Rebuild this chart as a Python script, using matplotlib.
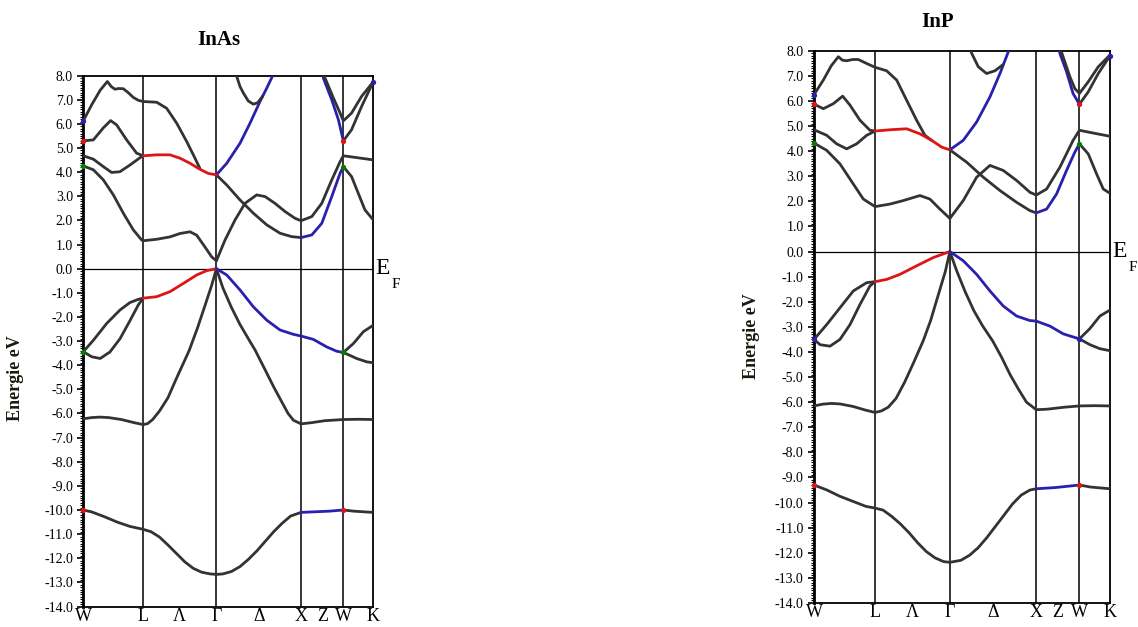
import matplotlib
matplotlib.use('Agg')
import matplotlib.pyplot as plt
from matplotlib.ticker import MultipleLocator, FixedLocator
import matplotlib.transforms as mtransforms

plt.rcParams['font.family'] = ['Liberation Serif', 'DejaVu Serif']
plt.rcParams['axes.unicode_minus'] = False

# high symmetry path W-L-G-X-W-K (units of 2pi/a)
sym_k = [0.0, 0.707, 1.573, 2.573, 3.073, 3.427]
tick_k = [0.0, 0.707, 1.140, 1.573, 2.073, 2.573, 2.823, 3.073, 3.427]
tick_lab = ['W', 'L', 'Λ', 'Γ', 'Δ', 'X', 'Z', 'W', 'K']

DARK = '#333333'
RED = '#dd1515'
BLUE = '#2a20b0'

# ---------------- InAs ----------------
inas_s_wx = [(0, -10.0), (0.1, -10.08), (0.25, -10.28), (0.4, -10.5), (0.55, -10.68), (0.707, -10.8),
             (0.8, -10.9), (0.9, -11.12), (1.0, -11.45), (1.1, -11.8), (1.2, -12.15), (1.3, -12.42),
             (1.4, -12.58), (1.5, -12.65), (1.573, -12.67), (1.65, -12.65), (1.75, -12.55), (1.85, -12.35),
             (1.95, -12.05), (2.05, -11.7), (2.15, -11.3), (2.25, -10.9), (2.35, -10.55), (2.45, -10.25),
             (2.573, -10.1)]
inas_s_xw = [(2.573, -10.1), (2.7, -10.08), (2.9, -10.05), (3.073, -10.0)]
inas_s_wk = [(3.073, -10.0), (3.2, -10.05), (3.427, -10.1)]

inas_p_wl = [(0, -6.22), (0.1, -6.17), (0.2, -6.15), (0.3, -6.17), (0.45, -6.25), (0.6, -6.38), (0.707, -6.46)]
inas_p_lg = [(0.707, -6.46), (0.76, -6.42), (0.82, -6.25), (0.9, -5.9), (1.0, -5.35), (1.1, -4.55),
             (1.25, -3.4), (1.35, -2.45), (1.45, -1.4), (1.52, -0.65), (1.573, 0.0)]
inas_p_gx = [(1.573, 0.0), (1.65, -0.8), (1.75, -1.6), (1.85, -2.3), (1.95, -2.9), (2.03, -3.37),
             (2.15, -4.2), (2.25, -4.9), (2.35, -5.55), (2.42, -6.0), (2.483, -6.28), (2.573, -6.43)]
inas_p_xk = [(2.573, -6.43), (2.7, -6.38), (2.85, -6.3), (3.073, -6.25), (3.25, -6.24), (3.427, -6.25)]

inas_v_wl1 = [(0, -3.44), (0.12, -2.96), (0.276, -2.27), (0.434, -1.71), (0.552, -1.4), (0.65, -1.27), (0.707, -1.22)]
inas_v_wl2 = [(0, -3.44), (0.1, -3.65), (0.2, -3.72), (0.315, -3.45), (0.434, -2.9), (0.552, -2.15),
              (0.65, -1.5), (0.707, -1.22)]
inas_v_lg = [(0.707, -1.22), (0.867, -1.16), (1.025, -0.95), (1.182, -0.61), (1.34, -0.26), (1.458, -0.08), (1.573, 0.0)]
inas_v_gw = [(1.573, 0.0), (1.695, -0.26), (1.852, -0.88), (2.01, -1.58), (2.167, -2.13), (2.325, -2.54),
             (2.483, -2.72), (2.573, -2.79), (2.719, -2.93), (2.876, -3.24), (2.994, -3.42), (3.073, -3.47)]
inas_v_wk1 = [(3.073, -3.47), (3.192, -3.1), (3.31, -2.61), (3.427, -2.34)]
inas_v_wk2 = [(3.073, -3.47), (3.23, -3.72), (3.35, -3.86), (3.427, -3.9)]

inas_c_wg = [(0, 4.26), (0.119, 4.1), (0.237, 3.68), (0.355, 3.06), (0.473, 2.3), (0.591, 1.61), (0.69, 1.19),
             (0.707, 1.16), (0.867, 1.22), (1.025, 1.32), (1.143, 1.46), (1.261, 1.53), (1.34, 1.39),
             (1.438, 0.9), (1.517, 0.49), (1.573, 0.33)]
inas_c_gk = [(1.573, 0.33), (1.675, 1.19), (1.793, 2.02), (1.911, 2.71), (2.049, 3.06), (2.148, 2.99),
             (2.265, 2.71), (2.384, 2.37), (2.502, 2.09), (2.573, 1.99), (2.7, 2.16), (2.818, 2.71),
             (2.936, 3.68), (3.035, 4.44), (3.073, 4.68), (3.2, 4.62), (3.427, 4.51)]
inas_c2_gx = [(1.573, 3.89), (1.695, 3.47), (1.852, 2.85), (2.01, 2.3), (2.167, 1.82), (2.325, 1.47),
              (2.462, 1.33), (2.573, 1.29)]
inas_c2_xw = [(2.573, 1.29), (2.7, 1.4), (2.818, 1.88), (2.936, 2.99), (3.035, 3.96), (3.073, 4.23)]
inas_c2_wk = [(3.073, 4.23), (3.17, 3.82), (3.249, 3.13), (3.328, 2.44), (3.427, 2.02)]
inas_c3_g = [(1.573, 3.89), (1.695, 4.37), (1.852, 5.2), (1.97, 6.03), (2.088, 6.93), (2.167, 7.48),
             (2.234, 7.97), (2.25, 8.2)]
inas_c4_gx = [(1.80, 8.2), (1.813, 7.97), (1.852, 7.55), (1.892, 7.28), (1.95, 6.95), (2.01, 6.82),
              (2.06, 6.88), (2.12, 7.15)]
inas_u1 = [(0, 6.13), (0.1, 6.8), (0.2, 7.4), (0.284, 7.76), (0.33, 7.55), (0.374, 7.44), (0.42, 7.47),
           (0.473, 7.46), (0.53, 7.3), (0.591, 7.1), (0.65, 6.98), (0.707, 6.93), (0.867, 6.9),
           (0.985, 6.65), (1.104, 6.03), (1.222, 5.27), (1.32, 4.58), (1.379, 4.15)]
inas_u2 = [(0, 5.3), (0.119, 5.34), (0.237, 5.84), (0.323, 6.14), (0.394, 5.96), (0.512, 5.34),
           (0.63, 4.79), (0.707, 4.68)]
inas_u3 = [(0, 4.68), (0.119, 4.54), (0.237, 4.23), (0.335, 3.99), (0.433, 4.02), (0.552, 4.3),
           (0.67, 4.6), (0.707, 4.68)]
inas_u_lg = [(0.707, 4.68), (0.867, 4.72), (1.025, 4.72), (1.143, 4.58), (1.261, 4.37), (1.379, 4.12),
             (1.477, 3.95), (1.573, 3.89)]
inas_t_b = [(2.82, 8.2), (2.837, 7.9), (2.936, 7.0), (3.015, 6.17), (3.073, 5.3)]
inas_t_k1 = [(2.84, 8.2), (2.857, 7.9), (2.956, 7.07), (3.035, 6.45), (3.073, 6.13), (3.17, 6.45),
             (3.288, 7.14), (3.427, 7.75)]
inas_t_k2 = [(3.073, 5.3), (3.17, 5.76), (3.288, 6.72), (3.427, 7.75)]

# ---------------- InP ----------------
inp_s_wx = [(0, -9.3), (0.15, -9.5), (0.3, -9.75), (0.45, -9.95), (0.6, -10.15), (0.707, -10.22),
            (0.8, -10.3), (0.9, -10.55), (1.0, -10.85), (1.1, -11.2), (1.2, -11.6), (1.3, -11.95),
            (1.4, -12.2), (1.5, -12.35), (1.573, -12.38), (1.7, -12.3), (1.8, -12.1), (1.9, -11.8),
            (2.0, -11.4), (2.1, -10.95), (2.2, -10.5), (2.3, -10.05), (2.4, -9.7), (2.5, -9.5), (2.573, -9.45)]
inp_s_xw = [(2.573, -9.45), (2.8, -9.4), (3.073, -9.3)]
inp_s_wk = [(3.073, -9.3), (3.2, -9.38), (3.427, -9.45)]

inp_p_wl = [(0, -6.15), (0.1, -6.08), (0.2, -6.05), (0.3, -6.07), (0.45, -6.17), (0.6, -6.32), (0.707, -6.41)]
inp_p_lg = [(0.707, -6.41), (0.78, -6.35), (0.86, -6.2), (0.95, -5.85), (1.05, -5.2), (1.15, -4.45),
            (1.265, -3.55), (1.35, -2.75), (1.45, -1.6), (1.52, -0.8), (1.573, 0.0)]
inp_p_gx = [(1.573, 0.0), (1.65, -0.75), (1.75, -1.6), (1.85, -2.35), (1.95, -2.95), (2.07, -3.57),
            (2.17, -4.2), (2.27, -4.9), (2.37, -5.5), (2.46, -6.0), (2.573, -6.3)]
inp_p_xk = [(2.573, -6.3), (2.7, -6.28), (2.9, -6.2), (3.073, -6.15), (3.25, -6.14), (3.427, -6.15)]

inp_v_wl1 = [(0, -3.5), (0.147, -2.91), (0.301, -2.24), (0.455, -1.57), (0.61, -1.24), (0.707, -1.2)]
inp_v_wl2 = [(0, -3.5), (0.07, -3.71), (0.185, -3.77), (0.301, -3.5), (0.417, -2.91), (0.532, -2.11),
             (0.648, -1.37), (0.707, -1.2)]
inp_v_lg = [(0.707, -1.2), (0.841, -1.11), (0.995, -0.91), (1.188, -0.57), (1.381, -0.24), (1.573, 0.0)]
inp_v_gw = [(1.573, 0.0), (1.729, -0.37), (1.883, -0.91), (2.037, -1.57), (2.191, -2.17), (2.346, -2.57),
            (2.5, -2.75), (2.573, -2.77), (2.731, -2.97), (2.886, -3.28), (3.073, -3.48)]
inp_v_wk1 = [(3.073, -3.48), (3.194, -3.07), (3.31, -2.57), (3.427, -2.33)]
inp_v_wk2 = [(3.073, -3.48), (3.194, -3.71), (3.31, -3.87), (3.427, -3.95)]

inp_c_wg = [(0, 4.32), (0.147, 4.03), (0.301, 3.49), (0.455, 2.69), (0.571, 2.09), (0.707, 1.79),
            (0.879, 1.89), (1.034, 2.03), (1.226, 2.23), (1.342, 2.09), (1.458, 1.69), (1.573, 1.32)]
inp_c_gk = [(1.573, 1.32), (1.728, 2.03), (1.883, 2.96), (2.037, 3.43), (2.191, 3.23), (2.346, 2.83),
            (2.5, 2.36), (2.573, 2.25), (2.693, 2.49), (2.847, 3.36), (3.0, 4.43), (3.073, 4.83),
            (3.233, 4.72), (3.427, 4.59)]
inp_c2_gx = [(1.573, 4.05), (1.767, 3.56), (1.96, 2.96), (2.153, 2.43), (2.346, 1.96), (2.5, 1.63), (2.573, 1.54)]
inp_c2_xw = [(2.573, 1.54), (2.693, 1.69), (2.808, 2.29), (2.924, 3.23), (3.02, 3.96), (3.073, 4.29)]
inp_c2_wk = [(3.073, 4.29), (3.175, 3.89), (3.272, 3.09), (3.349, 2.49), (3.427, 2.32)]
inp_c3_g = [(1.573, 4.05), (1.728, 4.43), (1.883, 5.16), (2.037, 6.16), (2.153, 7.09), (2.25, 7.96), (2.27, 8.2)]
inp_c4_gx = [(1.8, 8.2), (1.825, 7.9), (1.902, 7.36), (1.998, 7.09), (2.095, 7.2), (2.19, 7.45)]
inp_u1 = [(0, 6.25), (0.108, 6.83), (0.2, 7.4), (0.282, 7.76), (0.33, 7.62), (0.378, 7.6), (0.45, 7.65),
          (0.513, 7.65), (0.61, 7.49), (0.707, 7.34), (0.841, 7.2), (0.957, 6.83), (1.072, 6.03),
          (1.188, 5.23), (1.284, 4.63), (1.362, 4.43)]
inp_u2 = [(0, 5.87), (0.108, 5.69), (0.224, 5.89), (0.332, 6.19), (0.417, 5.83), (0.532, 5.23),
          (0.648, 4.83), (0.707, 4.8)]
inp_u3 = [(0, 4.85), (0.147, 4.63), (0.262, 4.29), (0.378, 4.09), (0.494, 4.29), (0.61, 4.63), (0.707, 4.8)]
inp_u_lg = [(0.707, 4.8), (0.879, 4.85), (1.072, 4.89), (1.226, 4.69), (1.362, 4.43), (1.478, 4.16), (1.573, 4.05)]
inp_t_b = [(2.83, 8.2), (2.847, 7.89), (2.924, 7.16), (3.0, 6.29), (3.073, 5.87)]
inp_t_k1 = [(2.85, 8.2), (2.87, 7.9), (2.963, 6.96), (3.02, 6.49), (3.073, 6.3), (3.175, 6.76),
            (3.291, 7.36), (3.427, 7.83)]
inp_t_k2 = [(3.073, 5.87), (3.175, 6.36), (3.291, 7.09), (3.427, 7.8)]

inas_bands = [
    (inas_s_wx, DARK), (inas_s_xw, BLUE), (inas_s_wk, DARK),
    (inas_p_wl, DARK), (inas_p_lg, DARK), (inas_p_gx, DARK), (inas_p_xk, DARK),
    (inas_v_wl1, DARK), (inas_v_wl2, DARK), (inas_v_lg, RED), (inas_v_gw, BLUE),
    (inas_v_wk1, DARK), (inas_v_wk2, DARK),
    (inas_c_wg, DARK), (inas_c_gk, DARK), (inas_c2_gx, DARK), (inas_c2_xw, BLUE), (inas_c2_wk, DARK),
    (inas_c3_g, BLUE), (inas_c4_gx, DARK),
    (inas_u1, DARK), (inas_u2, DARK), (inas_u3, DARK), (inas_u_lg, RED),
    (inas_t_b, BLUE), (inas_t_k1, DARK), (inas_t_k2, DARK),
]
inp_bands = [
    (inp_s_wx, DARK), (inp_s_xw, BLUE), (inp_s_wk, DARK),
    (inp_p_wl, DARK), (inp_p_lg, DARK), (inp_p_gx, DARK), (inp_p_xk, DARK),
    (inp_v_wl1, DARK), (inp_v_wl2, DARK), (inp_v_lg, RED), (inp_v_gw, BLUE),
    (inp_v_wk1, DARK), (inp_v_wk2, DARK),
    (inp_c_wg, DARK), (inp_c_gk, DARK), (inp_c2_gx, DARK), (inp_c2_xw, BLUE), (inp_c2_wk, DARK),
    (inp_c3_g, BLUE), (inp_c4_gx, DARK),
    (inp_u1, DARK), (inp_u2, DARK), (inp_u3, DARK), (inp_u_lg, RED),
    (inp_t_b, BLUE), (inp_t_k1, DARK), (inp_t_k2, DARK),
]

# small coloured dots at W / K points
inas_dots = [(0, 6.13, BLUE), (0, 5.3, RED), (0, 4.26, 'g'), (0, -3.44, 'g'), (0, -10.0, RED),
             (3.073, 5.3, RED), (3.073, 4.23, 'g'), (3.073, -3.47, 'g'), (3.073, -10.0, RED), (3.427, 7.75, BLUE)]
inp_dots = [(0, 6.25, BLUE), (0, 5.87, RED), (0, 4.32, 'g'), (0, -3.5, BLUE), (0, -9.3, RED),
            (3.073, 5.87, RED), (3.073, 4.29, 'g'), (3.073, -3.48, BLUE), (3.073, -9.3, RED), (3.427, 7.8, BLUE)]


def draw_panel(ax, bands, dots):
    for pts, col in bands:
        ks = [p[0] for p in pts]
        es = [p[1] for p in pts]
        ax.plot(ks, es, color=col, lw=2.0, solid_capstyle='round', solid_joinstyle='round', zorder=3)
    for k, e, col in dots:
        ax.plot(k, e, 'o', ms=2.8, color=col, zorder=4, clip_on=False)
    for k in sym_k[1:-1]:
        ax.axvline(k, color='black', lw=1.1, zorder=2)
    ax.axhline(0.0, color='black', lw=0.9, zorder=2)
    ax.set_xlim(sym_k[0], sym_k[-1])
    ax.set_ylim(-14, 8)
    ax.xaxis.set_major_locator(FixedLocator(tick_k))
    ax.set_xticklabels(tick_lab)
    ax.tick_params(axis='x', length=0, pad=1, labelsize=13)
    ax.yaxis.set_minor_locator(MultipleLocator(0.1))
    ax.set_yticks([float(v) for v in range(-14, 9)])
    ax.set_yticklabels(['%.1f' % v for v in range(-14, 9)])
    ax.tick_params(axis='y', which='major', direction='out', length=4.5, width=1.2, pad=3, labelsize=10)
    ax.tick_params(axis='y', which='minor', direction='out', length=2.5, width=0.8)
    for s in ax.spines.values():
        s.set_linewidth(1.3)
    ax.spines['left'].set_linewidth(2.0)
    trans = mtransforms.blended_transform_factory(ax.transAxes, ax.transData)
    ax.text(1.008, 0.0, 'E', transform=trans, fontsize=17, va='center', ha='left')
    ax.text(1.062, -0.65, 'F', transform=trans, fontsize=11, va='center', ha='left')


fig = plt.figure(figsize=(11.38, 6.27), dpi=100)
W, H = 1138.0, 627.0

ax1 = fig.add_axes([83.3 / W, 1 - 606.5 / H, 290 / W, (606.5 - 75.7) / H])
draw_panel(ax1, inas_bands, inas_dots)
fig.text(219 / W, 1 - 40 / H, 'InAs', fontsize=15, fontweight='bold', ha='center', va='center')
fig.text(15 / W, 1 - 378 / H, 'Energie eV', fontsize=13, fontweight='bold', rotation=90,
         ha='center', va='center', color='#1c1a10')

ax2 = fig.add_axes([814 / W, 1 - 603 / H, 296 / W, (603 - 50.7) / H])
draw_panel(ax2, inp_bands, inp_dots)
fig.text(938 / W, 1 - 22 / H, 'InP', fontsize=15, fontweight='bold', ha='center', va='center')
fig.text(752 / W, 1 - 336 / H, 'Energie eV', fontsize=13, fontweight='bold', rotation=90,
         ha='center', va='center', color='#1c1a10')

fig.savefig('out.png', dpi=100)
